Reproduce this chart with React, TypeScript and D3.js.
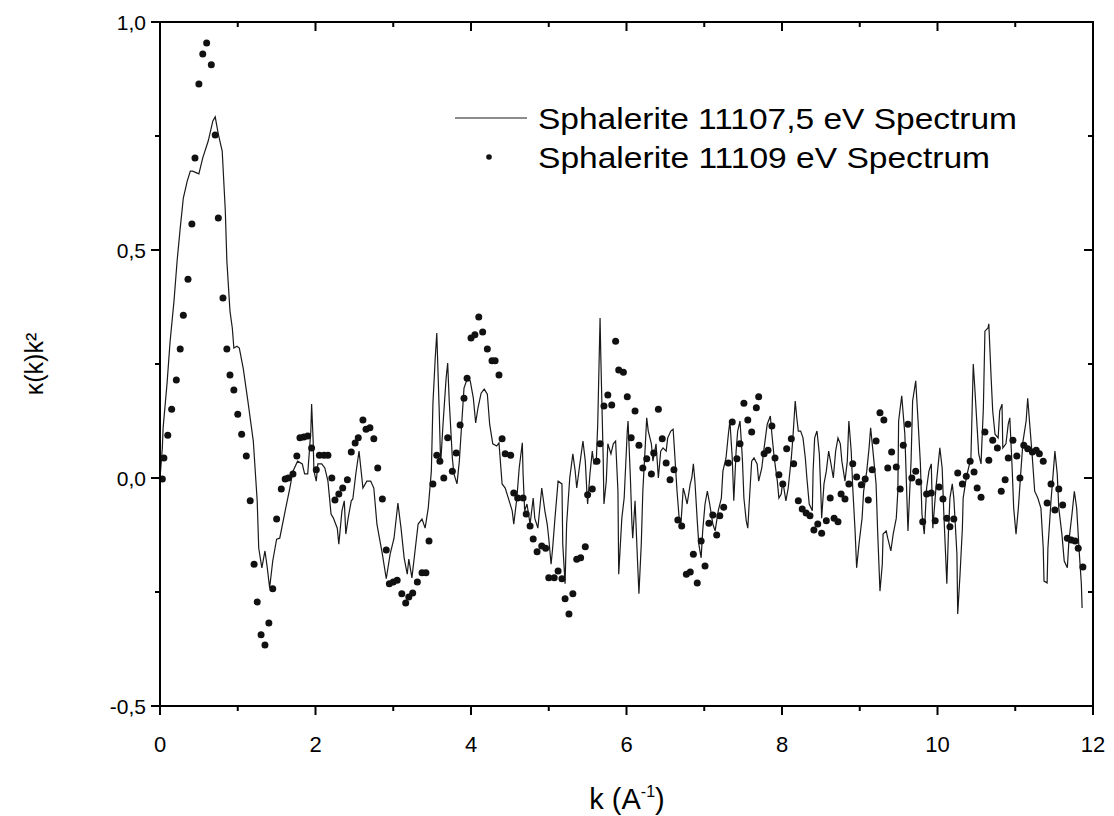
import React from "react";
import * as d3 from "d3";

// Sphalerite 11107,5 eV spectrum (solid line)
const lineK = [0,0.03,0.04,0.09,0.13,0.18,0.22,0.26,0.30,0.35,0.39,0.42,0.50,0.55,0.62,0.68,0.71,0.75,0.80,0.84,0.86,0.90,0.93,0.95,0.99,1.02,1.07,1.13,1.20,1.25,1.27,1.31,1.35,1.38,1.41,1.45,1.50,1.54,1.61,1.67,1.71,1.77,1.83,1.86,1.90,1.94,1.95,1.97,1.98,2.01,2.03,2.08,2.12,2.16,2.20,2.23,2.28,2.30,2.34,2.37,2.39,2.42,2.46,2.48,2.52,2.56,2.61,2.66,2.71,2.75,2.79,2.86,2.91,2.96,3.01,3.06,3.10,3.14,3.18,3.20,3.24,3.28,3.32,3.37,3.41,3.45,3.49,3.51,3.54,3.56,3.59,3.61,3.64,3.68,3.70,3.72,3.76,3.78,3.82,3.85,3.88,3.91,3.95,3.99,4.03,4.06,4.09,4.13,4.17,4.21,4.24,4.28,4.33,4.36,4.40,4.44,4.48,4.53,4.55,4.59,4.62,4.66,4.67,4.69,4.72,4.76,4.80,4.82,4.86,4.89,4.91,4.95,4.98,5.00,5.03,5.05,5.08,5.12,5.17,5.18,5.21,5.23,5.27,5.31,5.34,5.36,5.40,5.44,5.47,5.49,5.50,5.53,5.56,5.58,5.61,5.63,5.66,5.67,5.70,5.71,5.74,5.76,5.80,5.83,5.86,5.89,5.90,5.94,5.97,6.01,6.02,6.05,6.07,6.08,6.11,6.14,6.16,6.19,6.21,6.24,6.26,6.28,6.32,6.34,6.38,6.41,6.44,6.47,6.51,6.53,6.57,6.60,6.62,6.65,6.68,6.70,6.73,6.75,6.78,6.82,6.84,6.86,6.88,6.91,6.93,6.96,6.98,7.01,7.04,7.07,7.11,7.14,7.18,7.22,7.24,7.28,7.31,7.33,7.36,7.38,7.41,7.43,7.46,7.49,7.51,7.54,7.56,7.58,7.61,7.64,7.68,7.70,7.74,7.77,7.81,7.85,7.87,7.90,7.94,7.96,7.99,8.01,8.05,8.08,8.12,8.14,8.17,8.19,8.21,8.24,8.27,8.30,8.32,8.35,8.39,8.40,8.42,8.45,8.48,8.50,8.51,8.54,8.57,8.60,8.63,8.66,8.69,8.72,8.75,8.77,8.81,8.84,8.86,8.89,8.91,8.94,8.96,8.99,9.03,9.05,9.09,9.12,9.14,9.17,9.21,9.23,9.26,9.29,9.30,9.34,9.36,9.40,9.43,9.47,9.49,9.50,9.54,9.58,9.62,9.66,9.68,9.72,9.75,9.78,9.80,9.83,9.86,9.89,9.92,9.94,9.98,10.01,10.03,10.06,10.08,10.12,10.14,10.16,10.19,10.21,10.25,10.26,10.29,10.32,10.33,10.37,10.39,10.43,10.46,10.48,10.51,10.53,10.56,10.59,10.61,10.65,10.66,10.69,10.71,10.74,10.78,10.80,10.83,10.84,10.88,10.91,10.93,10.96,10.98,11.01,11.04,11.07,11.10,11.14,11.16,11.19,11.22,11.25,11.29,11.33,11.36,11.37,11.41,11.42,11.46,11.49,11.51,11.54,11.56,11.60,11.63,11.67,11.69,11.73,11.76,11.79,11.82,11.85,11.86];
const lineY = [0,0.066,0.110,0.206,0.300,0.388,0.476,0.548,0.614,0.651,0.673,0.673,0.667,0.702,0.739,0.783,0.792,0.754,0.717,0.586,0.476,0.366,0.329,0.285,0.289,0.285,0.241,0.169,0.081,-0.050,-0.154,-0.197,-0.160,-0.197,-0.241,-0.182,-0.134,-0.132,-0.072,-0.022,0.015,0.037,0.031,0.009,0.009,0.103,0.162,0.081,0.015,-0.007,0.031,0.031,0.022,-0.007,-0.079,-0.088,-0.110,-0.145,-0.072,-0.050,-0.123,-0.088,-0.050,-0.046,0.011,0.059,-0.022,-0.007,-0.007,-0.022,-0.101,-0.167,-0.221,-0.167,-0.132,-0.055,-0.110,-0.175,-0.211,-0.178,-0.219,-0.160,-0.101,-0.090,-0.110,-0.066,0.015,0.162,0.263,0.318,0.154,0.031,0.118,0.219,0.252,0.169,0.044,0.009,-0.013,0.037,0.118,0.197,0.217,0.213,0.175,0.121,0.154,0.186,0.195,0.184,0.118,0.075,0.070,0.077,-0.013,-0.022,-0.044,-0.072,-0.101,-0.044,0.022,0.077,0.009,-0.072,-0.057,-0.101,-0.044,-0.088,-0.110,-0.057,-0.022,-0.072,-0.101,-0.132,-0.189,-0.154,-0.088,-0.007,-0.013,-0.145,-0.232,-0.101,0.000,0.053,0.015,-0.022,0.031,0.081,0.037,-0.029,-0.057,0.009,0.059,0.031,0.031,0.118,0.351,0.263,0.044,-0.057,-0.007,0.075,0.053,0.075,0.081,-0.029,-0.211,-0.088,-0.044,0.103,0.125,0.000,-0.101,-0.132,-0.050,-0.175,-0.254,-0.145,-0.029,0.066,0.132,0.103,0.075,0.037,0.075,0.000,0.059,0.066,0.059,0.088,0.103,0.107,0.053,-0.029,-0.094,-0.101,-0.022,-0.035,-0.057,-0.013,0.000,0.031,-0.007,-0.094,-0.145,-0.175,-0.116,-0.057,-0.029,-0.057,-0.101,-0.116,-0.072,-0.044,0.015,0.044,0.096,0.125,0.044,-0.050,0.059,0.103,0.125,0.044,-0.044,-0.094,-0.110,-0.050,0.037,0.044,0.031,-0.007,0.022,0.066,0.118,0.136,0.096,0.044,-0.007,-0.044,-0.035,-0.007,-0.050,-0.022,0.044,0.088,0.169,0.132,0.103,0.103,0.088,0.044,0.000,-0.057,-0.072,0.015,0.088,0.103,0.053,-0.035,-0.088,-0.013,0.015,0.059,0.031,0.000,0.059,0.088,0.075,0.037,-0.007,0.037,0.125,0.059,-0.022,-0.116,-0.197,-0.145,-0.088,-0.029,0.015,0.066,0.110,0.059,-0.013,-0.116,-0.248,-0.189,-0.123,-0.116,-0.132,-0.160,-0.123,-0.088,-0.029,0.125,0.180,0.096,-0.116,0.037,0.169,0.213,0.125,0.031,-0.079,-0.123,-0.022,0.015,0.031,-0.110,-0.022,0.031,0.066,0.022,-0.072,-0.232,-0.123,-0.044,-0.013,-0.044,-0.167,-0.298,-0.211,-0.110,-0.044,0.000,0.015,0.044,0.250,0.197,0.110,0.053,0.031,0.154,0.322,0.329,0.338,0.219,0.147,0.096,0.088,0.147,0.162,0.066,0.075,0.118,0.132,0.022,-0.066,-0.123,-0.066,0.009,0.081,0.125,0.175,0.110,0.044,-0.029,-0.044,-0.066,-0.154,-0.226,-0.230,-0.154,-0.050,0.015,0.059,0.009,-0.066,-0.123,-0.182,-0.197,-0.138,-0.079,-0.029,-0.066,-0.154,-0.232,-0.285];

// Sphalerite 11109 eV spectrum (dots)
const dotK = [0.03,0.05,0.10,0.15,0.21,0.26,0.30,0.36,0.41,0.45,0.50,0.55,0.60,0.66,0.71,0.75,0.81,0.86,0.90,0.95,1.00,1.05,1.11,1.16,1.21,1.25,1.30,1.35,1.40,1.45,1.50,1.56,1.61,1.65,1.71,1.76,1.80,1.85,1.90,1.95,2.01,2.05,2.11,2.16,2.21,2.25,2.30,2.35,2.41,2.46,2.51,2.55,2.61,2.65,2.70,2.75,2.80,2.86,2.91,2.95,3.00,3.05,3.11,3.16,3.20,3.25,3.31,3.37,3.42,3.46,3.51,3.56,3.60,3.65,3.70,3.76,3.81,3.86,3.91,3.95,4.00,4.05,4.10,4.15,4.21,4.27,4.31,4.36,4.40,4.44,4.51,4.55,4.60,4.67,4.71,4.76,4.80,4.85,4.91,4.96,5.00,5.07,5.12,5.17,5.21,5.26,5.31,5.36,5.41,5.47,5.50,5.56,5.62,5.66,5.71,5.76,5.81,5.86,5.90,5.96,6.01,6.06,6.11,6.16,6.21,6.26,6.32,6.35,6.41,6.46,6.51,6.56,6.61,6.66,6.71,6.77,6.82,6.86,6.91,6.96,7.01,7.06,7.11,7.16,7.20,7.25,7.31,7.36,7.42,7.46,7.51,7.56,7.61,7.67,7.70,7.77,7.82,7.87,7.91,7.96,8.01,8.06,8.12,8.15,8.21,8.26,8.31,8.36,8.41,8.46,8.51,8.57,8.62,8.67,8.72,8.76,8.81,8.86,8.91,8.96,9.02,9.07,9.11,9.16,9.21,9.26,9.31,9.36,9.41,9.47,9.52,9.56,9.62,9.67,9.72,9.76,9.81,9.86,9.92,9.97,10.02,10.07,10.12,10.16,10.21,10.26,10.32,10.37,10.42,10.47,10.51,10.56,10.61,10.66,10.71,10.77,10.82,10.87,10.91,10.97,11.02,11.06,11.11,11.16,11.22,11.27,11.31,11.36,11.41,11.46,11.51,11.56,11.61,11.67,11.72,11.77,11.81,11.87];
const dotY = [-0.002,0.044,0.094,0.151,0.215,0.283,0.357,0.436,0.557,0.702,0.864,0.930,0.954,0.906,0.752,0.570,0.395,0.283,0.226,0.193,0.140,0.096,0.048,-0.050,-0.189,-0.272,-0.344,-0.366,-0.318,-0.243,-0.090,-0.024,-0.002,0.000,0.009,0.048,0.088,0.090,0.092,0.066,0.018,0.050,0.050,0.050,0.000,-0.048,-0.035,-0.022,-0.004,0.057,0.077,0.088,0.127,0.107,0.110,0.086,0.022,-0.046,-0.158,-0.232,-0.228,-0.224,-0.254,-0.274,-0.261,-0.252,-0.228,-0.208,-0.208,-0.138,-0.013,0.050,0.037,0.000,0.088,0.015,0.055,0.116,0.175,0.219,0.307,0.314,0.353,0.320,0.283,0.257,0.257,0.226,0.086,0.053,0.050,-0.033,-0.044,-0.044,-0.079,-0.105,-0.134,-0.162,-0.149,-0.154,-0.219,-0.219,-0.204,-0.221,-0.265,-0.298,-0.254,-0.178,-0.175,-0.151,-0.037,-0.024,0.037,0.075,0.158,0.182,0.160,0.300,0.237,0.232,0.178,0.088,0.147,0.072,0.022,0.042,0.009,0.055,0.151,0.086,0.033,-0.004,0.018,-0.092,-0.105,-0.211,-0.206,-0.167,-0.230,-0.138,-0.193,-0.099,-0.081,-0.125,-0.083,-0.064,0.033,0.123,0.042,0.075,0.164,0.127,0.101,0.154,0.178,0.053,0.061,0.114,0.044,0.007,-0.013,0.064,0.086,0.031,-0.050,-0.068,-0.077,-0.083,-0.114,-0.101,-0.121,-0.094,-0.044,-0.088,-0.096,-0.035,-0.046,-0.013,0.031,0.002,-0.015,-0.002,-0.048,0.018,0.081,0.143,0.127,0.022,0.057,0.024,-0.024,0.072,0.118,0.000,0.015,-0.009,-0.096,-0.035,-0.033,-0.094,-0.020,-0.046,-0.088,-0.107,-0.090,0.011,-0.013,0.004,0.037,0.013,-0.022,-0.042,0.101,0.039,0.083,0.066,-0.029,-0.004,0.044,0.083,0.048,0.000,0.072,0.064,0.057,0.061,0.053,0.037,-0.055,-0.013,-0.070,-0.024,-0.059,-0.132,-0.136,-0.138,-0.154,-0.195];

const xTicksMajor = [0, 2, 4, 6, 8, 10, 12];
const xTicksMinor = [1, 3, 5, 7, 9, 11];
const yTicksMajor = [-0.5, 0, 0.5, 1.0];
const yTicksMinor = [-0.25, 0.25, 0.75];
const seriesNames = ["Sphalerite 11107,5 eV Spectrum", "Sphalerite 11109 eV Spectrum"];

const W = 1114;
const H = 816;
const left = 160, right = 1093, top = 22, bottom = 706;
const FONT = "'Liberation Sans', Arial, sans-serif";

const locale = d3.formatLocale({ decimal: ",", thousands: ".", grouping: [3], currency: ["", ""], minus: "-" });
const fmtY = locale.format(".1f");

export default function App() {
  const x = d3.scaleLinear().domain([0, 12]).range([left, right]);
  const y = d3.scaleLinear().domain([-0.5, 1.0]).range([bottom, top]);

  const lineData = lineK.map((k, i) => [k, lineY[i]] as [number, number]);
  const path = d3.line<[number, number]>().x(d => x(d[0])).y(d => y(d[1]))(lineData) || "";

  return (
    <svg width={W} height={H} style={{ position: "absolute", left: 0, top: 0, background: "#fff" }}>
      <rect x={0} y={0} width={W} height={H} fill="#fff" />
      <path d={path} fill="none" stroke="#1a1a1a" strokeWidth={1.2} strokeLinejoin="miter" />
      {dotK.map((k, i) => (
        <circle key={i} cx={x(k)} cy={y(dotY[i])} r={3.5} fill="#111" />
      ))}
      <rect x={left} y={top} width={right - left} height={bottom - top} fill="none" stroke="#000" strokeWidth={2} />
      {xTicksMajor.map(t => (
        <g key={"xm" + t}>
          <line x1={x(t)} x2={x(t)} y1={bottom} y2={bottom + 9} stroke="#000" strokeWidth={2} />
          <line x1={x(t)} x2={x(t)} y1={top} y2={top + 9} stroke="#000" strokeWidth={2} />
          <text x={x(t)} y={bottom + 46} textAnchor="middle" fontFamily={FONT} fontSize={22} fill="#000">{t}</text>
        </g>
      ))}
      {xTicksMinor.map(t => (
        <g key={"xn" + t}>
          <line x1={x(t)} x2={x(t)} y1={bottom} y2={bottom + 5} stroke="#000" strokeWidth={2} />
          <line x1={x(t)} x2={x(t)} y1={top} y2={top + 5} stroke="#000" strokeWidth={2} />
        </g>
      ))}
      {yTicksMajor.map(t => (
        <g key={"ym" + t}>
          <line x1={left - 9} x2={left} y1={y(t)} y2={y(t)} stroke="#000" strokeWidth={2} />
          <line x1={right - 9} x2={right} y1={y(t)} y2={y(t)} stroke="#000" strokeWidth={2} />
          <text x={left - 14} y={y(t) + 8} textAnchor="end" fontFamily={FONT} fontSize={21} fill="#000">{fmtY(t)}</text>
        </g>
      ))}
      {yTicksMinor.map(t => (
        <g key={"yn" + t}>
          <line x1={left - 5} x2={left} y1={y(t)} y2={y(t)} stroke="#000" strokeWidth={2} />
          <line x1={right - 5} x2={right} y1={y(t)} y2={y(t)} stroke="#000" strokeWidth={2} />
        </g>
      ))}
      <text x={627} y={809} textAnchor="middle" fontFamily={FONT} fontSize={29} fill="#000">
        k (A<tspan dy={-12} fontSize={16}>-1</tspan><tspan dy={12}>)</tspan>
      </text>
      <text transform={`translate(43, 364) rotate(-90)`} textAnchor="middle" fontFamily={FONT} fontSize={25} fill="#000">
        κ(k)k²
      </text>
      <line x1={455} x2={527} y1={118} y2={118} stroke="#1a1a1a" strokeWidth={1.2} />
      <text x={538} y={129} fontFamily={FONT} fontSize={30} textLength={479} lengthAdjust="spacingAndGlyphs" fill="#000">{seriesNames[0]}</text>
      <circle cx={489} cy={157} r={2.8} fill="#111" />
      <text x={538} y={168} fontFamily={FONT} fontSize={30} textLength={452} lengthAdjust="spacingAndGlyphs" fill="#000">{seriesNames[1]}</text>
    </svg>
  );
}
